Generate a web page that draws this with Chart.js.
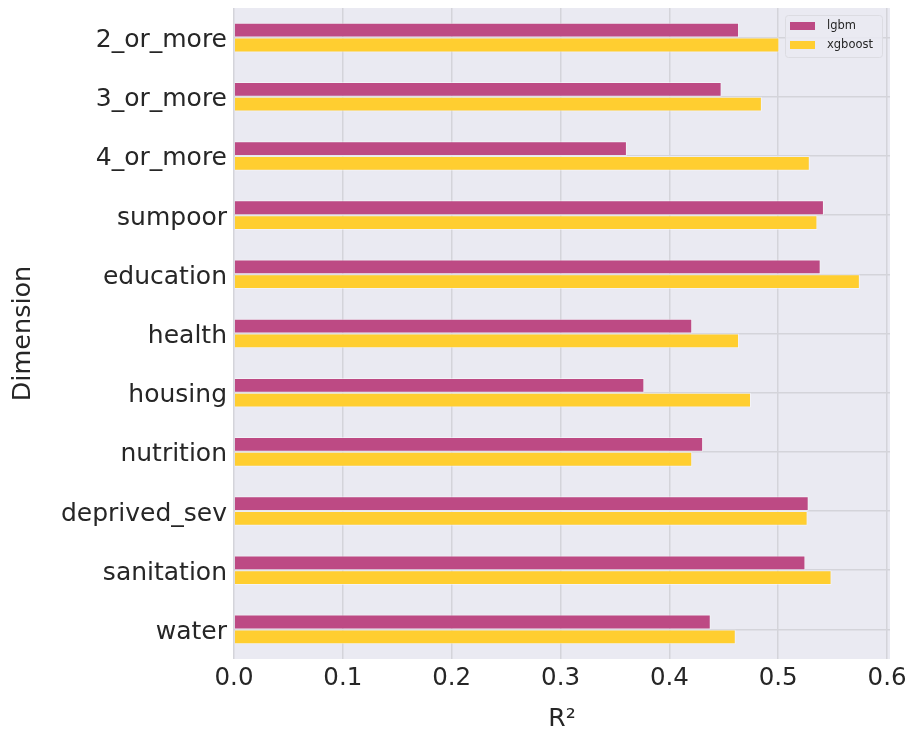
<!DOCTYPE html>
<html>
<head>
<meta charset="utf-8">
<script src="https://cdn.jsdelivr.net/npm/chart.js@4.4.0/dist/chart.umd.min.js"></script>
<style>
  html, body { margin: 0; padding: 0; background: #ffffff; }
  #wrap { width: 909px; height: 738px; }
</style>
</head>
<body>
<div id="wrap"><canvas id="c" width="909" height="738"></canvas></div>
<script>
// R² per dimension for the two boosted models
const dimensions = ['2_or_more', '3_or_more', '4_or_more', 'sumpoor', 'education', 'health',
                    'housing', 'nutrition', 'deprived_sev', 'sanitation', 'water'];
const lgbmR2    = [0.464, 0.448, 0.361, 0.542, 0.539, 0.421, 0.377, 0.431, 0.528, 0.525, 0.438];
const xgboostR2 = [0.501, 0.485, 0.529, 0.536, 0.575, 0.464, 0.475, 0.421, 0.527, 0.549, 0.461];
const xTickValues = [0.0, 0.1, 0.2, 0.3, 0.4, 0.5, 0.6];

const gridColor = '#d4d4da';
const textColor = '#262626';
const font = 'DejaVu Sans';

// Plot background panel
const panelBg = {
  id: 'panelBg',
  beforeDraw(chart) {
    const { ctx, chartArea: a } = chart;
    ctx.save();
    ctx.fillStyle = '#eaeaf2';
    ctx.fillRect(a.left, a.top, a.right - a.left, a.bottom - a.top);
    ctx.restore();
  }
};

// Boxed legend in the upper-right corner of the plot
const innerLegend = {
  id: 'innerLegend',
  afterDatasetsDraw(chart) {
    const { ctx, chartArea: a } = chart;
    const ds = chart.data.datasets;
    const boxW = 97, boxH = 42;
    const x0 = a.right - 8 - boxW, y0 = a.top + 7;
    ctx.save();
    ctx.fillStyle = 'rgba(234,234,242,0.85)';
    ctx.strokeStyle = '#dcdce2';
    ctx.lineWidth = 1;
    ctx.beginPath();
    ctx.roundRect(x0 + 0.5, y0 + 0.5, boxW, boxH, 3);
    ctx.fill();
    ctx.stroke();
    ctx.font = '11.5px "' + font + '"';
    ctx.textBaseline = 'middle';
    ds.forEach((d, i) => {
      const cy = y0 + 11 + i * 19;
      ctx.fillStyle = d.backgroundColor;
      ctx.fillRect(x0 + 5, cy - 4, 25, 8);
      ctx.fillStyle = textColor;
      ctx.fillText(d.label, x0 + 42, cy);
    });
    ctx.restore();
  }
};

new Chart(document.getElementById('c'), {
  type: 'bar',
  data: {
    labels: dimensions,
    datasets: [
      { label: 'lgbm', data: lgbmR2, backgroundColor: '#bd4a84',
        borderColor: 'rgba(255,255,255,0.45)', borderWidth: 1,
        barPercentage: 1.0, categoryPercentage: 0.5 },
      { label: 'xgboost', data: xgboostR2, backgroundColor: '#ffce30',
        borderColor: 'rgba(255,255,255,0.45)', borderWidth: 1,
        barPercentage: 1.0, categoryPercentage: 0.5 }
    ]
  },
  options: {
    indexAxis: 'y',
    responsive: false,
    animation: false,
    layout: { padding: { top: 8, right: 19, left: 0, bottom: 0 } },
    plugins: { legend: { display: false }, tooltip: { enabled: false } },
    scales: {
      x: {
        min: 0, max: 0.6027,
        border: { display: false },
        grid: { color: gridColor, lineWidth: 1.5, drawTicks: false },
        afterBuildTicks(scale) {
          scale.ticks = xTickValues.map(v => ({ value: v }));
        },
        afterFit(scale) {
          scale.height = 79;
          scale.paddingLeft = 0;
          scale.paddingRight = 0;
        },
        ticks: {
          color: textColor, padding: 5,
          font: { family: font, size: 24.5 },
          callback: v => Number(v).toFixed(1)
        },
        title: {
          display: true, text: 'R²', color: textColor,
          font: { family: font, size: 25 }, padding: { top: 4 }
        }
      },
      y: {
        border: { display: false },
        grid: { color: gridColor, lineWidth: 1.5, offset: false, drawTicks: false },
        afterFit(scale) {
          scale.width = 234;
          scale.paddingTop = 0;
          scale.paddingBottom = 0;
        },
        ticks: {
          color: textColor, padding: 7, labelOffset: 3,
          font: { family: font, size: 25 }
        },
        title: {
          display: true, text: 'Dimension', color: textColor,
          font: { family: font, size: 25.5 }, padding: { bottom: 0, top: 8 }
        }
      }
    }
  },
  plugins: [panelBg, innerLegend]
});
</script>
</body>
</html>
